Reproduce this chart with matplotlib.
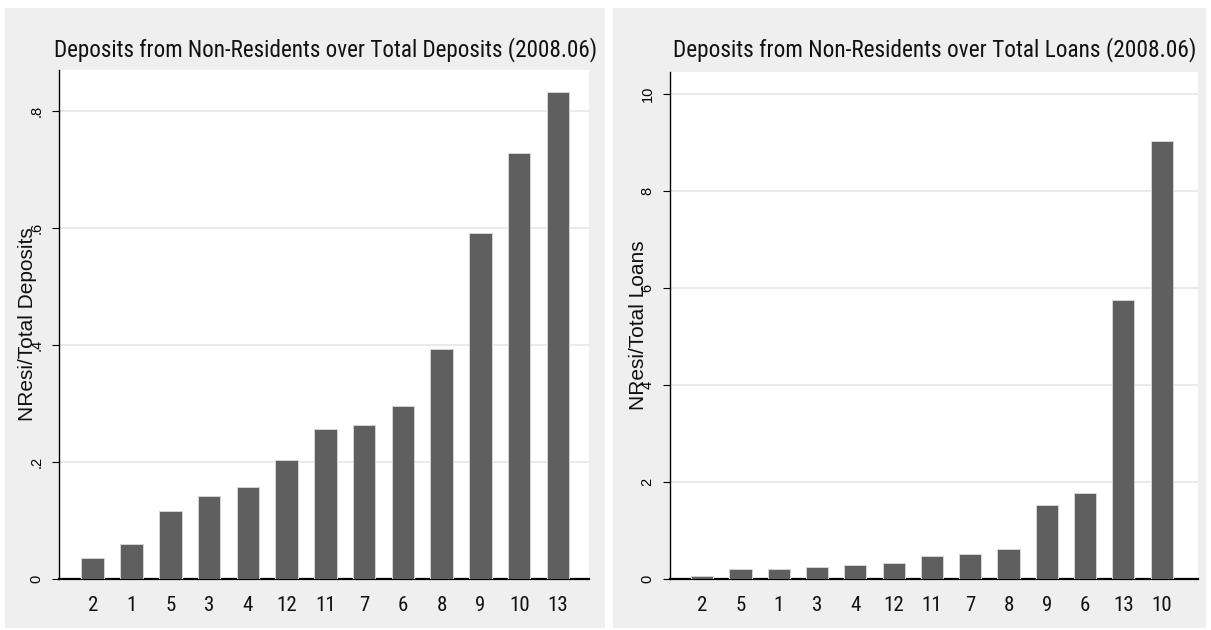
import matplotlib
matplotlib.use("Agg")
import matplotlib.pyplot as plt
from matplotlib.patches import Rectangle
from matplotlib import font_manager
from matplotlib.font_manager import FontProperties

# ---- data ----
dep_labels = ["2", "1", "5", "3", "4", "12", "11", "7", "6", "8", "9", "10", "13"]
dep_values = [0.036, 0.060, 0.117, 0.142, 0.158, 0.204, 0.257, 0.264, 0.295, 0.393, 0.592, 0.728, 0.832]
dep_yticks = [0, 0.2, 0.4, 0.6, 0.8]
dep_yticklabels = ["0", ".2", ".4", ".6", ".8"]

loan_labels = ["2", "5", "1", "3", "4", "12", "11", "7", "8", "9", "6", "13", "10"]
loan_values = [0.06, 0.21, 0.21, 0.25, 0.29, 0.32, 0.47, 0.51, 0.62, 1.52, 1.78, 5.75, 9.03]
loan_yticks = [0, 2, 4, 6, 8, 10]
loan_yticklabels = ["0", "2", "4", "6", "8", "10"]

titles = ["Deposits from Non-Residents over Total Deposits (2008.06)",
          "Deposits from Non-Residents over Total Loans (2008.06)"]
ylabels = ["NResi/Total Deposits", "NResi/Total Loans"]

# ---- fonts ----
def find_font_file(keys):
    files = [f.fname for f in font_manager.fontManager.ttflist]
    for key in keys:
        for fn in files:
            base = fn.split("/")[-1].lower()
            if key in base and "bold" not in base and "italic" not in base and "oblique" not in base:
                return fn
    return None

narrow_file = find_font_file(["liberationsansnarrow-regular", "arialn", "robotocondensed-regular",
                              "dejavusanscondensed.ttf", "opensans_condensed-regular",
                              "opensanscondensed", "notosans-condensed", "condensed-regular"])
names = {f.name for f in font_manager.fontManager.ttflist}
regular = "Liberation Sans" if "Liberation Sans" in names else "DejaVu Sans"
if narrow_file:
    narrow_fp = FontProperties(fname=narrow_file)
else:
    narrow_fp = FontProperties(family=regular)

W, H = 1211, 630
fig = plt.figure(figsize=(W / 100, H / 100), dpi=100, facecolor="white")
renderer = fig.canvas.get_renderer()

def fx(px):
    return px / W

def fy(py):
    return 1 - py / H

# panel backgrounds
for x0, x1 in [(5, 605), (613, 1206)]:
    fig.patches.append(Rectangle((fx(x0), fy(628)), fx(x1 - x0), (628 - 8) / H,
                                 transform=fig.transFigure, facecolor="#efefef",
                                 edgecolor="none", zorder=-10))

bar_color = "#5f5f5f"
grid_color = "#e6e6e6"

panels = [
    dict(left=59, right=589, top=70, labels=dep_labels, values=dep_values,
         yticks=dep_yticks, yticklabels=dep_yticklabels, ylim=(0, 0.87),
         xlim=(-0.87, 12.8), title=titles[0], ylabel=ylabels[0],
         t0=54, t1=598, ylab_x=28),
    dict(left=670, right=1198, top=72, labels=loan_labels, values=loan_values,
         yticks=loan_yticks, yticklabels=loan_yticklabels, ylim=(0, 10.45),
         xlim=(-0.84, 12.95), title=titles[1], ylabel=ylabels[1],
         t0=673, t1=1196, ylab_x=638),
]

bottom = 579
for p in panels:
    ax = fig.add_axes([fx(p["left"]), fy(bottom), fx(p["right"] - p["left"]),
                       (bottom - p["top"]) / H])
    ax.set_facecolor("white")
    x = list(range(len(p["labels"])))
    ax.bar(x, p["values"], width=0.58, color=bar_color, edgecolor="#d5d5d5",
           linewidth=0.7, zorder=3)
    ax.set_xlim(*p["xlim"])
    ax.set_ylim(*p["ylim"])
    ax.set_yticks(p["yticks"])
    ax.set_yticklabels(p["yticklabels"], rotation=90, va="center",
                       fontsize=10.5, family=regular)
    ax.set_xticks(x)
    xfp = narrow_fp.copy()
    xfp.set_size(15 if narrow_file else 12.5)
    ax.set_xticklabels(p["labels"], fontproperties=xfp, color="#111111")
    ax.tick_params(axis="x", length=0, pad=12)
    ax.tick_params(axis="y", length=5, width=0.8, pad=6, direction="out")
    ax.grid(axis="y", color=grid_color, linewidth=1.2, zorder=0)
    for s in ["top", "right"]:
        ax.spines[s].set_visible(False)
    ax.spines["left"].set_linewidth(1.0)
    ax.spines["bottom"].set_linewidth(1.6)
    ax.set_ylabel(p["ylabel"], fontsize=15, family=regular, color="#111111")
    ax.yaxis.label.set_va("center")
    ax.yaxis.set_label_coords((p["ylab_x"] - p["left"]) / (p["right"] - p["left"]), 0.5)

    # title, sized to fit the reference width
    tfp = narrow_fp.copy()
    tfp.set_size(17)
    t = fig.text(fx((p["t0"] + p["t1"]) / 2), fy(50), p["title"], ha="center",
                 va="center", fontproperties=tfp, color="#111111")
    w = t.get_window_extent(renderer).width
    target = p["t1"] - p["t0"]
    tfp.set_size(17 * target / w)
    t.set_fontproperties(tfp)

fig.savefig("out.png", dpi=100, facecolor="white")
